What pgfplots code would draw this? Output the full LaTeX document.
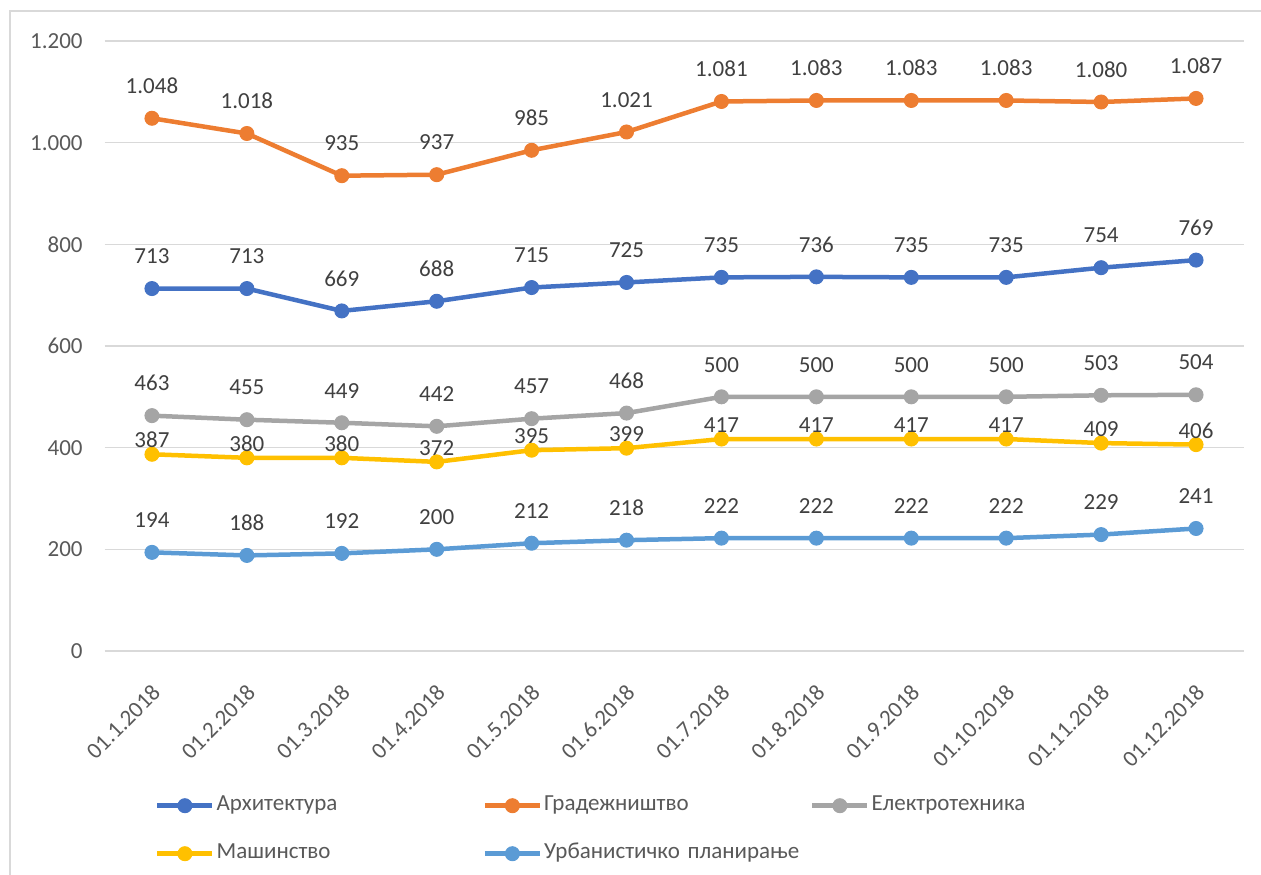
\documentclass[border=0pt]{standalone}
\usepackage{pgfplots}
\pgfplotsset{compat=1.18}
\usepackage{fontspec}
\setmainfont{Carlito}
\definecolor{cA}{HTML}{4472C4}
\definecolor{cG}{HTML}{ED7D31}
\definecolor{cE}{HTML}{A5A5A5}
\definecolor{cM}{HTML}{FFC000}
\definecolor{cU}{HTML}{5B9BD5}
\definecolor{gridgray}{HTML}{D9D9D9}
\definecolor{tickgray}{HTML}{595959}
\definecolor{labgray}{HTML}{404040}
\begin{document}
\begin{tikzpicture}
\fontsize{23}{28}\selectfont
\path[use as bounding box] (0,0) rectangle (1261pt,875pt);
\draw[gridgray, line width=1.5pt] (10pt,-20pt) -- (10pt,864pt) -- (1300pt,864pt);
\begin{axis}[
  at={(104.5pt,224pt)}, anchor=south west,
  scale only axis, width=1139pt, height=610pt,
  xmin=-0.5, xmax=11.5, ymin=0, ymax=1200,
  xtick={0,...,11},
  xticklabels={01.1.2018,01.2.2018,01.3.2018,01.4.2018,01.5.2018,01.6.2018,01.7.2018,01.8.2018,01.9.2018,01.10.2018,01.11.2018,01.12.2018},
  ytick={0,200,...,1200},
  ymajorgrids, grid style={gridgray, line width=1.4pt},
  axis line style={draw=none}, tick style={draw=none},
  /pgf/number format/1000 sep={.},
  /pgf/number format/assume math mode=true,
  ticklabel style={font=\fontsize{23}{28}\selectfont, text=tickgray},
  yticklabel style={xshift=-14pt},
  xticklabel style={rotate=45, anchor=north east, xshift=-16pt, yshift=-14pt},
  nodes near coords,
  every node near coord/.append style={font=\fontsize{23}{28}\selectfont, text=labgray},
  lab/.style={every node near coord/.append style={yshift=#1}},
  every axis plot/.append style={line width=4.5pt, mark=*, mark size=7pt, mark options={solid, line width=1pt}},
  legend columns=3,
  legend image code/.code={\draw[mark repeat=2,mark phase=2,#1] plot coordinates {(0pt,0pt) (27.5pt,0pt) (55pt,0pt)};},
  legend style={at={(0.0443,-0.232)}, anchor=north west, draw=none, fill=none, inner sep=0pt,
    row sep=22pt, column sep=0pt,
    font=\fontsize{23}{28}\selectfont, text=tickgray,
    nodes={inner sep=2pt, text height=16pt, text depth=6pt},
    /tikz/every even column/.append style={text width=264pt, align=left}},
  legend cell align=left,
]
\addplot[cA, lab=16.5pt] coordinates {(0,713)(1,713)(2,669)(3,688)(4,715)(5,725)(6,735)(7,736)(8,735)(9,735)(10,754)(11,769)};
\addlegendentry{Архитектура}
\addplot[cG, lab=16.5pt] coordinates {(0,1048)(1,1018)(2,935)(3,937)(4,985)(5,1021)(6,1081)(7,1083)(8,1083)(9,1083)(10,1080)(11,1087)};
\addlegendentry{Градежништво}
\addplot[cE, lab=16.5pt] coordinates {(0,463)(1,455)(2,449)(3,442)(4,457)(5,468)(6,500)(7,500)(8,500)(9,500)(10,503)(11,504)};
\addlegendentry{Електротехника}
\addplot[cM, lab=-2pt] coordinates {(0,387)(1,380)(2,380)(3,372)(4,395)(5,399)(6,417)(7,417)(8,417)(9,417)(10,409)(11,406)};
\addlegendentry{Машинство}
\addplot[cU, lab=16.5pt] coordinates {(0,194)(1,188)(2,192)(3,200)(4,212)(5,218)(6,222)(7,222)(8,222)(9,222)(10,229)(11,241)};
\addlegendentry{Урбанистичко планирање}
\end{axis}
\end{tikzpicture}
\end{document}
